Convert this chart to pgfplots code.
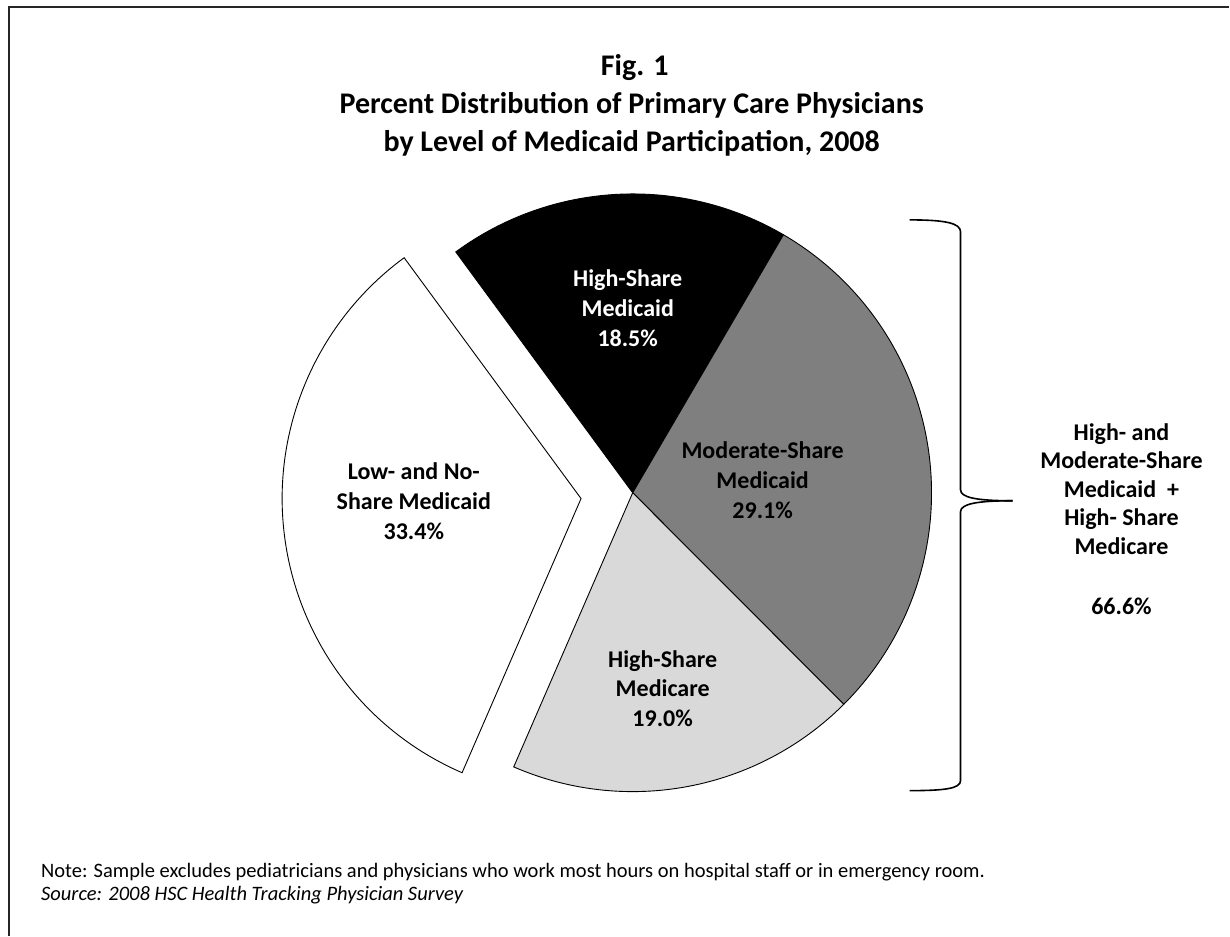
\documentclass[border=0pt]{standalone}
\usepackage{pgfplots}
\usepackage{pgfplotstable}
\pgfplotsset{compat=1.18}
\usepackage{fontspec}
\setmainfont{Carlito}

\definecolor{midgrey}{HTML}{7F7F7F}
\definecolor{lightgrey}{HTML}{D9D9D9}

% shares in percent, clockwise from the top-left edge of the black slice
\pgfplotstableread{
share  col        explode
18.5   black      0
29.1   midgrey    0
19.0   lightgrey  0
33.4   white      52
}\piedata

\begin{document}
\begin{tikzpicture}
\begin{axis}[
  width=1230bp, height=936bp, scale only axis,
  xmin=0, xmax=1230, ymin=0, ymax=936,
  y dir=reverse,
  hide axis, clip=false,
]
% keep the whole page in the bounding box
\path (axis cs:0,0) rectangle (axis cs:1230,936);
% page frame
\draw[line width=1.2bp, black!85] (axis cs:9,936) -- (axis cs:9,7) -- (axis cs:1230,7);

% pie slices
\pgfplotstablegetrowsof{\piedata}
\pgfmathtruncatemacro{\lastrow}{\pgfplotsretval-1}
\def\cur{126.3}
\pgfplotsforeachungrouped \i in {0,...,\lastrow}{%
  \pgfplotstablegetelem{\i}{share}\of{\piedata}\let\sh\pgfplotsretval
  \pgfplotstablegetelem{\i}{col}\of{\piedata}\let\col\pgfplotsretval
  \pgfplotstablegetelem{\i}{explode}\of{\piedata}\let\ex\pgfplotsretval
  \pgfmathsetmacro{\nxt}{\cur-3.6*\sh}
  \pgfmathsetmacro{\mid}{(\cur+\nxt)/2}
  \pgfmathsetmacro{\cx}{633+\ex*cos(\mid)}
  \pgfmathsetmacro{\cy}{493-\ex*sin(\mid)}
  \edef\temp{\noexpand\filldraw[fill=\col, draw=black, line width=0.9bp]
    (axis cs:\cx,\cy) -- ++(\cur:299bp)
    arc[start angle=\cur, end angle=\nxt, radius=299bp] -- cycle;}
  \temp
  \let\cur\nxt
}

% slice labels
\tikzset{lbl/.style={font=\bfseries\fontsize{24bp}{30bp}\selectfont, align=center, inner sep=0pt}}
\node[lbl, text=white] at (axis cs:628,308) {High-Share\\Medicaid\\18.5\%};
\node[lbl] at (axis cs:763,480) {Moderate-Share\\Medicaid\\29.1\%};
\node[lbl] at (axis cs:663,689) {High-Share\\Medicare\\19.0\%};
\node[lbl] at (axis cs:414,501) {Low- and No-\\Share Medicaid\\33.4\%};

% brace
\draw[line width=1.6bp] (axis cs:910,220) .. controls (axis cs:945,220) and (axis cs:961,223) .. (axis cs:961,232)
  -- (axis cs:961,490) .. controls (axis cs:961,498) and (axis cs:978,501) .. (axis cs:1013,501);
\draw[line width=1.6bp] (axis cs:1013,501) .. controls (axis cs:978,501) and (axis cs:961,504) .. (axis cs:961,512)
  -- (axis cs:961,781) .. controls (axis cs:961,789) and (axis cs:945,791) .. (axis cs:910,791);

\node[font=\bfseries\fontsize{24bp}{28.5bp}\selectfont, align=center, inner sep=0pt] at (axis cs:1122,489)
  {High- and\\Moderate-Share\\Medicaid\ \ +\\High- Share\\Medicare};
\node[font=\bfseries\fontsize{24bp}{28.5bp}\selectfont, inner sep=0pt] at (axis cs:1122,607) {66.6\%};

% title
\tikzset{ttl/.style={font=\bfseries\fontsize{30bp}{38bp}\selectfont, anchor=base, inner sep=0pt}}
\node[ttl] at (axis cs:635,76) {Fig. 1};
\node[ttl] at (axis cs:632,114) {Percent Distribution of Primary Care Physicians};
\node[ttl] at (axis cs:632,152) {by Level of Medicaid Participation, 2008};

% note
\node[font=\fontsize{20.5bp}{23bp}\selectfont, anchor=base west, inner sep=0pt] at (axis cs:41,878)
  {Note: Sample excludes pediatricians and physicians who work most hours on hospital staff or in emergency room.};
\node[font=\itshape\fontsize{20.5bp}{23bp}\selectfont, anchor=base west, inner sep=0pt] at (axis cs:41,901)
  {Source: 2008 HSC Health Tracking Physician Survey};
\end{axis}
\end{tikzpicture}
\end{document}
